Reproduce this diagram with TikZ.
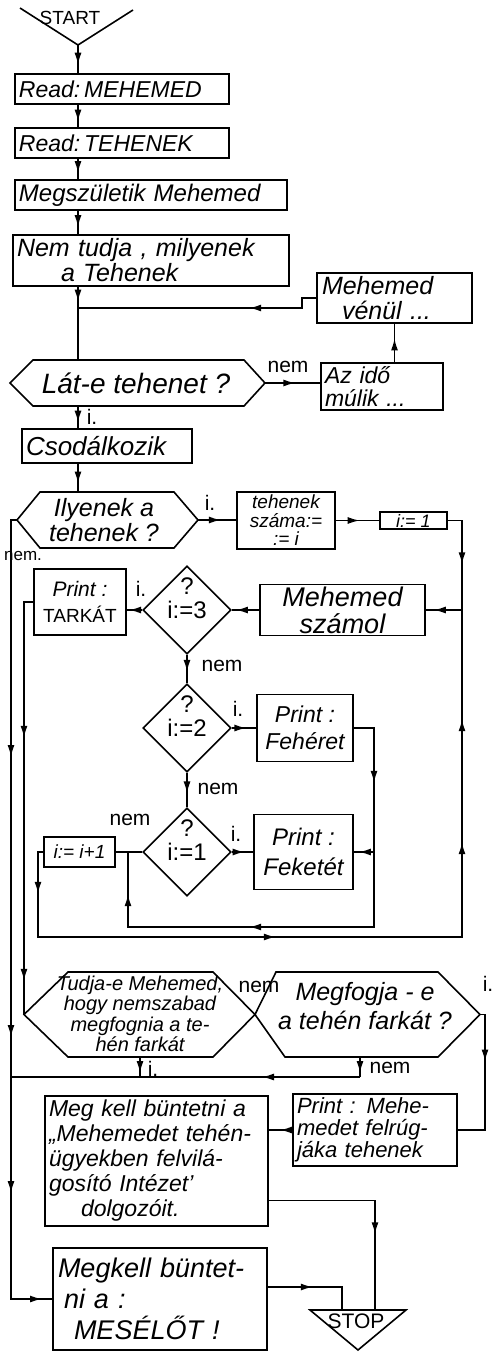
\documentclass[tikz,border=0pt]{standalone}
\usepackage{fontspec}
\setmainfont{Liberation Sans}
\usetikzlibrary{shapes.geometric,arrows.meta,decorations.markings,calc}
\newcommand\fsz[2]{\fontsize{#1pt}{#2pt}\selectfont}
\begin{document}
\begin{tikzpicture}[x=1pt,y=-1pt,
  ln/.style={line width=1.6pt},
  bx/.style={draw,line width=1.6pt,rectangle,inner sep=2pt,align=center},
  lbx/.style={bx,align=left},
  dm/.style={draw,line width=1.6pt,diamond,minimum width=88pt,minimum height=88pt,inner sep=0pt},
  dtx/.style={inner sep=0pt,align=center,font=\fsz{24}{24}},
  ma/.style={postaction={decorate,decoration={markings,mark=at position #1 with {\arrow{Latex[length=12pt,width=7pt]}}}}},
  lb/.style={inner sep=0pt,font=\fsz{21}{21}},
  tx/.style={inner sep=0pt,align=center},
]
\fill[white] (0,0) rectangle (496,1352);
\path[use as bounding box] (0,0) rectangle (496,1352);

% START
\coordinate (sv) at (78,45);
\draw[ln] (20,8) -- (sv) -- (133,10);
\node[lb,font=\fsz{19}{19}] (start) at (70,18) {START};

% boxes of the top column
\node[lbx,minimum width=214,minimum height=30,text width=206,font=\fsz{23}{23}\itshape] (r1) at (122,89) {Read:\,MEHEMED};
\node[lbx,minimum width=214,minimum height=30,text width=206,font=\fsz{23}{23}\itshape] (r2) at (122,143) {Read:\,TEHENEK};
\node[lbx,minimum width=272,minimum height=30,text width=264,font=\fsz{24}{24}\itshape] (r3) at (151,195) {Megszületik Mehemed};
\node[lbx,minimum width=276,minimum height=51,text width=268,font=\fsz{25}{25}\itshape] (nt) at (151,260.5) {Nem tudja , milyenek\\\hspace*{44pt}a Tehenek};
\node[lbx,minimum width=155,minimum height=50,text width=145,font=\fsz{25}{25}\itshape] (mv) at (394.5,298) {Mehemed\\\hspace*{20pt}vénül ...};
\node[lbx,minimum width=122,minimum height=47,text width=114,font=\fsz{23}{23}\itshape] (ai) at (382,386.5) {Az idő\\múlik ...};

% Lat-e hexagon
\coordinate (lat-w) at (10,383);
\coordinate (lat-e) at (265,383);
\coordinate (lat-n) at (78,360);
\coordinate (lat-s) at (78,406);
\draw[ln] (lat-w) -- (33,360) -- (244,360) -- (lat-e) -- (244,406) -- (33,406) -- cycle;
\node[tx,font=\fsz{28}{28}\itshape] (lat) at (136,383) {Lát-e tehenet ?};

\node[lbx,minimum width=170,minimum height=34,text width=162,font=\fsz{26}{26}\itshape] (cs) at (107,446) {Csodálkozik};

% Ilyenek hexagon
\coordinate (il-w) at (17,520);
\coordinate (il-e) at (198,520);
\coordinate (il-n) at (78,492);
\draw[ln] (il-w) -- (40,492) -- (174,492) -- (il-e) -- (174,548) -- (40,548) -- cycle;
\node[tx,font=\fsz{25}{25}\itshape] (il) at (104,520) {Ilyenek a\\tehenek ?};

\node[bx,minimum width=98,minimum height=57,inner sep=0pt,font=\fsz{19}{18.5}\itshape] (ts) at (286,520.5) {tehenek\\száma:=\\:= i};
\node[bx,minimum width=67,minimum height=17,inner ysep=0pt,font=\fsz{18}{18}\itshape] (i1) at (413.5,520.5) {i:= 1};
\node[bx,minimum width=165,minimum height=50,font=\fsz{27}{27}\itshape] (ms) at (342.5,610) {Mehemed\\számol};

% decisions
\node[dm] (d3) at (187,610) {};
\node[dtx] (d3t) at (187,598) {?\\i:=3};
\node[dm] (d2) at (187,728) {};
\node[dtx] (d2t) at (187,716) {?\\i:=2};
\node[dm] (d1) at (187,852) {};
\node[dtx] (d1t) at (187,840) {?\\i:=1};

\node[bx,minimum width=92,minimum height=66,font=\fsz{19}{26}] (tk) at (80,602) {{\fsz{21}{26}\itshape Print :}\\TARKÁT};
\node[bx,minimum width=96,minimum height=67,font=\fsz{23}{27}\itshape] (fh) at (305,728) {Print :\\Fehéret};
\node[bx,minimum width=99,minimum height=75,font=\fsz{24}{30}\itshape] (fk) at (303.5,852) {Print :\\Feketét};
\node[bx,minimum width=71,minimum height=30,font=\fsz{19}{19}\itshape] (ii) at (79.5,852) {i:= i+1};

% Tudja hexagon
\coordinate (tu-w) at (24,1014.5);
\coordinate (tu-e) at (255,1014.5);
\coordinate (tu-s) at (140,1057);
\draw[ln] (tu-w) -- (68,972) -- (213,972) -- (tu-e) -- (213,1057) -- (68,1057) -- cycle;
\node[tx,font=\fsz{20}{20.5}\itshape] (tu) at (140,1014) {Tudja-e Mehemed,\\hogy nemszabad\\megfognia a te-\\hén farkát};

% Megfogja hexagon
\coordinate (mf-w) at (255,1014.5);
\coordinate (mf-e) at (480,1014.5);
\coordinate (mf-s) at (360,1057);
\draw[ln] (mf-w) -- (276,972) -- (438,972) -- (mf-e) -- (438,1057) -- (285,1057) -- cycle;
\node[tx,font=\fsz{25}{29}\itshape] (mf) at (365,1006) {Megfogja - e\\a tehén farkát ?};

\node[lbx,minimum width=164,minimum height=72,text width=156,font=\fsz{22}{22}\itshape] (pm) at (375,1130) {Print : Mehe-\\medet felrúg-\\jáka tehenek};
\node[lbx,minimum width=223,minimum height=130,text width=215,font=\fsz{23}{25}\itshape] (mk) at (156.5,1161) {Meg kell büntetni a\\„Mehemedet tehén-\\ügyekben felvilá-\\gosító Intézet’\\\hspace*{32pt}dolgozóit.};
\node[lbx,minimum width=214,minimum height=102,text width=204,font=\fsz{27}{31}\itshape] (mes) at (160,1299) {Megkell büntet-\\\hspace*{6pt}ni a :\\\hspace*{16pt}MESÉLŐT !};

% STOP
\coordinate (stA) at (375,1310);
\coordinate (stB) at (342,1310);
\draw[ln] (310,1310) -- (406,1310) -- (358,1350) -- cycle;
\node[lb,font=\fsz{21}{21}] (stop) at (356,1321) {STOP};

% connectors
\draw[ln,ma=0.7] (sv) -- (sv |- r1.north);
\draw[ln,ma=0.75] (sv |- r1.south) -- (sv |- r2.north);
\draw[ln,ma=0.7] (sv |- r2.south) -- (sv |- r3.north);
\draw[ln,ma=0.7] (sv |- r3.south) -- (sv |- nt.north);
\coordinate (j1) at (78,308);
\draw[ln,ma=0.7] (sv |- nt.south) -- (j1);
\draw[ln] (j1) -- (lat-n);
\draw[ln,ma=77pt] (mv.west) -- ++(-14,0) |- (j1);
\draw[ln,ma=0.55] (lat-e) -- (lat-e -| ai.west);
\node[lb] at (288,367) {nem};
\draw[ln,ma=0.62] (ai.north -| mv.south) -- (mv.south);
\draw[ln,ma=0.75] (lat-s) -- (lat-s |- cs.north);
\node[lb] at (92,417) {i.};
\draw[ln,ma=0.7] (sv |- cs.south) -- (il-n);
\draw[ln,ma=0.6] (il-e) -- (il-e -| ts.west);
\node[lb] at (210,503) {i.};
\draw[ln,ma=0.55] (ts.east) -- (ts.east -| i1.west);
\coordinate (jr) at (462,610);
\draw[ln,ma=58pt] (i1.east) -| (jr);
\draw[ln,ma=0.78] (jr) -- (ms.east);
\draw[ln,ma=0.85] (ms.west) -- (d3.east);
\draw[ln,ma=0.85] (d3.west) -- (d3.west -| tk.east);
\node[lb] at (141,589) {i.};
\draw[ln,ma=145pt,ma=388pt] (tk.west) -| (tu-w);
\draw[ln,ma=0.6] (d3.south) -- (d2.north);
\node[lb] at (222,666) {nem};
\draw[ln,ma=0.6] (d2.east) -- (d2.east -| fh.west);
\node[lb] at (238,709) {i.};
\coordinate (jl) at (128,852);
\coordinate (rb) at (374,927);
\draw[ln,ma=75pt,ma=344pt,ma=498pt] (fh.east) -| (rb) -| (jl);
\draw[ln,ma=0.6] (d2.south) -- (d1.north);
\node[lb] at (218,789) {nem};
\draw[ln,ma=0.6] (d1.east) -- (fk.west);
\node[lb] at (236,834) {i.};
\draw[ln,ma=0.75] (fk.east -| rb) -- (fk.east);
\draw[ln] (d1.west) -- (ii.east);
\node[lb] at (130,820) {nem};
\coordinate (lb) at (38,937);
\draw[ln,ma=47pt,ma=328pt,ma=609pt,ma=732pt] (ii.west) -| (lb) -| (jr);
\draw[ln,ma=243pt,ma=523pt,ma=679pt,ma=816pt] (il-w) -- ++(-6,0) |- (mes.west);
\node[lb,font=\fsz{17}{17}] at (23,556) {nem.};
\draw[ln,ma=52pt] (mf-e) -- ++(5,0) |- (pm.east);
\node[lb] at (488,984) {i.};
\coordinate (jm) at (360,1077);
\coordinate (jt) at (140,1077);
\coordinate (jn) at (11,1077);
\draw[ln,ma=0.8] (mf-s) -- (jm);
\node[lb] at (390,1068) {nem};
\draw[ln,ma=0.8] (tu-s) -- (jt);
\node[lb] at (153,1069) {i.};
\draw[ln,ma=98pt] (jm) -- (jn);
\node[lb] at (259,987) {nem};
\draw[ln,ma=0.52] (pm.west) -- (pm.west -| mk.east);
\draw[ln,ma=140pt] ($(mk.south east)!0.2!(mk.north east)$) -| (stA);
\draw[ln,ma=45pt] ($(mes.east)+(0,-12)$) -| (stB);
\end{tikzpicture}
\end{document}
